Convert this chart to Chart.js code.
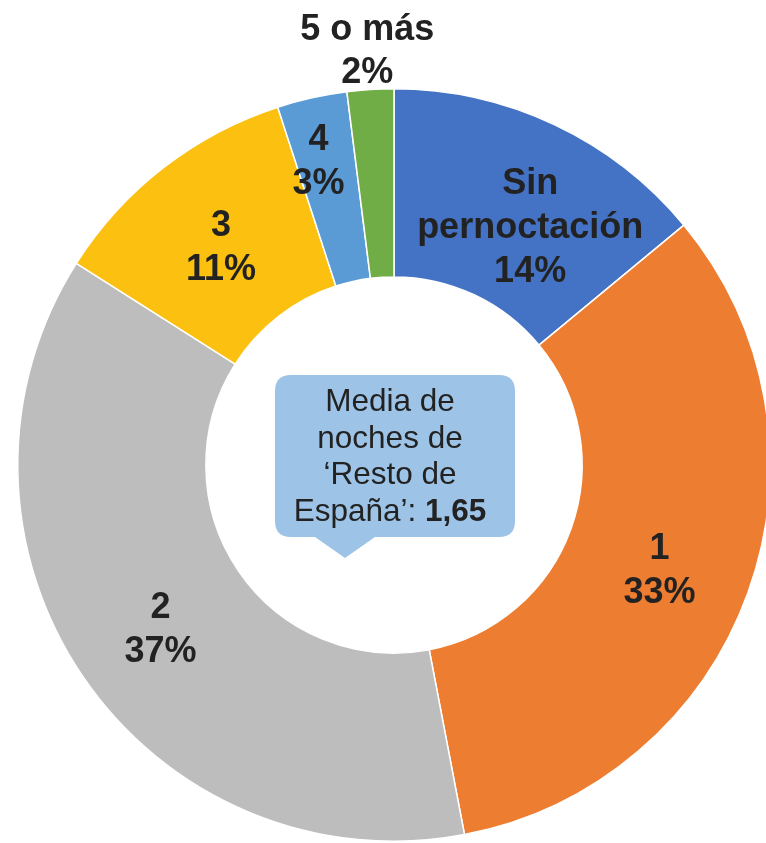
<!DOCTYPE html>
<html>
<head>
<meta charset="utf-8">
<script src="https://cdn.jsdelivr.net/npm/chart.js@4/dist/chart.umd.min.js"></script>
<style>
html,body{margin:0;padding:0;background:#fff;overflow:hidden;width:766px;height:843px;}
#wrap{position:absolute;left:0;top:0;width:788px;height:930px;}
</style>
</head>
<body>
<div id="wrap"><canvas id="c"></canvas></div>
<script>
const categories = ['Sin pernoctación', '1', '2', '3', '4', '5 o más'];
const labelLines = [['Sin', 'pernoctación'], ['1'], ['2'], ['3'], ['4'], ['5 o más']];
const values = [14, 33, 37, 11, 3, 2];
const colors = ['#4472C4', '#ED7D31', '#BDBDBD', '#FCC010', '#5B9BD5', '#70AD47'];
const calloutLines = ['Media de', 'noches de', '‘Resto de', 'España’: '];
const calloutValue = '1,65';

// label offsets (px) from the arc's mid point
const labelOffsets = [[16, 18], [0, 10], [0, 6], [0, 6], [-14, -28], [-9, -132]];

const labelPlugin = {
  id: 'labels',
  afterDatasetsDraw(chart) {
    const ctx = chart.ctx;
    const meta = chart.getDatasetMeta(0);
    ctx.save();
    ctx.fillStyle = '#222';
    ctx.font = 'bold 36px "Liberation Sans", Arial, sans-serif';
    ctx.textAlign = 'center';
    ctx.textBaseline = 'middle';
    meta.data.forEach((arc, i) => {
      const p = arc.tooltipPosition();
      const x = p.x + labelOffsets[i][0];
      const y = p.y + labelOffsets[i][1];
      const lines = labelLines[i].concat([values[i] + '%']);
      const lh = i === 5 ? 43 : 44;
      const y0 = y - (lines.length - 1) * lh / 2;
      lines.forEach((t, k) => ctx.fillText(t, x, y0 + k * lh));
    });
    ctx.restore();
  },
  afterDraw(chart) {
    const ctx = chart.ctx;
    const arc = chart.getDatasetMeta(0).data[0];
    const cx = arc.x, cy = arc.y;
    // callout box
    const l = cx - 119, r = cx + 121, t = cy - 90, b = cy + 72, rad = 16;
    ctx.save();
    ctx.fillStyle = '#9DC3E6';
    ctx.beginPath();
    ctx.moveTo(l + rad, t);
    ctx.lineTo(r - rad, t);
    ctx.quadraticCurveTo(r, t, r, t + rad);
    ctx.lineTo(r, b - rad);
    ctx.quadraticCurveTo(r, b, r - rad, b);
    ctx.lineTo(cx - 19, b);
    ctx.lineTo(cx - 49, b + 21);
    ctx.lineTo(cx - 79, b);
    ctx.lineTo(l + rad, b);
    ctx.quadraticCurveTo(l, b, l, b - rad);
    ctx.lineTo(l, t + rad);
    ctx.quadraticCurveTo(l, t, l + rad, t);
    ctx.closePath();
    ctx.fill();
    ctx.fillStyle = '#222';
    ctx.textBaseline = 'alphabetic';
    const fontN = '31.5px "Liberation Sans", Arial, sans-serif';
    const fontB = 'bold 31.5px "Liberation Sans", Arial, sans-serif';
    const tx = cx - 4;
    const base = cy - 54;
    const lh = 36.7;
    ctx.textAlign = 'center';
    ctx.font = fontN;
    for (let k = 0; k < 3; k++) ctx.fillText(calloutLines[k], tx, base + k * lh);
    ctx.font = fontN;
    const w1 = ctx.measureText(calloutLines[3]).width;
    ctx.font = fontB;
    const w2 = ctx.measureText(calloutValue).width;
    const sx = tx - (w1 + w2) / 2;
    ctx.textAlign = 'left';
    ctx.font = fontN;
    ctx.fillText(calloutLines[3], sx, base + 3 * lh);
    ctx.font = fontB;
    ctx.fillText(calloutValue, sx + w1, base + 3 * lh);
    ctx.restore();
  }
};

new Chart(document.getElementById('c'), {
  type: 'doughnut',
  data: {
    labels: categories,
    datasets: [{
      data: values,
      backgroundColor: colors,
      borderColor: '#ffffff',
      borderWidth: 1.5,
      hoverOffset: 0
    }]
  },
  options: {
    responsive: true,
    maintainAspectRatio: false,
    animation: false,
    cutout: '50%',
    layout: { padding: { left: 17, right: 17, top: 88, bottom: 88 } },
    plugins: { legend: { display: false }, tooltip: { enabled: false } }
  },
  plugins: [labelPlugin]
});
</script>
</body>
</html>
